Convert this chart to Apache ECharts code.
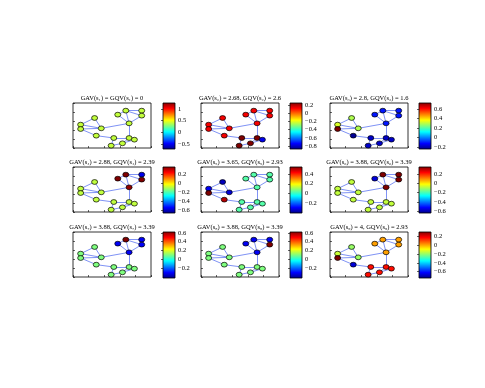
<!DOCTYPE html>
<html>
<head>
<meta charset="utf-8">
<script src="https://cdn.jsdelivr.net/npm/echarts@6/dist/echarts.min.js"></script>
<style>
  html, body { margin: 0; padding: 0; background: #fff; }
  #chart { width: 485px; height: 388px; }
</style>
</head>
<body>
<div id="chart"></div>
<script>
// 节点坐标（0-100，y 向上）
const nodeX = [27.7, 9.8, 9.8, 36.2, 29.8, 57.4, 67.7, 88.1, 88.1, 71.9, 52.3, 71.9, 78.7, 63.4, 48.9]
const nodeY = [66.7, 51.9, 42.2, 43.7, 27.4, 74.1, 83, 83, 71.9, 54.8, 22.2, 22.2, 18.5, 10.4, 5.2]
const edges = [
  [0, 1], [0, 3], [1, 2], [1, 3], [2, 3], [2, 4], [3, 9], [4, 10],
  [5, 6], [5, 9], [6, 7], [6, 8], [6, 9], [7, 8], [8, 9], [9, 11],
  [10, 11], [10, 14], [11, 12], [11, 13], [12, 13], [13, 14]
]

const titles = [
  'GAV(s₁) = GQV(s₁) = 0',
  'GAV(s₂) = 2.68, GQV(s₂) = 2.6',
  'GAV(s₃) = 2.8, GQV(s₃) = 1.6',
  'GAV(s₄) = 2.88, GQV(s₄) = 2.39',
  'GAV(s₅) = 3.65, GQV(s₅) = 2.93',
  'GAV(s₆) = 3.88, GQV(s₆) = 3.39',
  'GAV(s₇) = 3.88, GQV(s₇) = 3.39',
  'GAV(s₈) = 3.88, GQV(s₈) = 3.39',
  'GAV(s₉) = 4, GQV(s₉) = 2.93'
]

// 每个子图的节点值
const values1 = [0.4, 0.4, 0.4, 0.4, 0.4, 0.4, 0.4, 0.4, 0.4, 0.4, 0.4, 0.4, 0.4, 0.4, 0.4]
const values2 = [0.12, 0.12, 0.12, 0.12, 0.12, 0.12, 0.12, 0.12, 0.12, 0.12, 0.25, 0.25, -0.75, 0.25, 0.25]
const values3 = [0.29, 0.33, 0.73, 0.29, -0.22, -0.1, -0.1, -0.1, -0.1, -0.1, -0.17, -0.17, -0.17, -0.17, -0.17]
const values4 = [-0.08, -0.08, -0.08, -0.08, -0.08, 0.37, 0.37, -0.55, 0.37, 0.35, -0.08, -0.08, -0.08, -0.08, -0.08]
const values5 = [-0.35, -0.3, 0.55, -0.33, 0.5, 0.03, 0.03, 0.03, 0.03, 0.03, 0.03, 0.03, 0.03, 0.03, 0.03]
const values6 = [-0.08, -0.08, -0.08, -0.08, -0.08, -0.55, 0.35, 0.35, 0.35, 0.35, -0.08, -0.08, -0.08, -0.08, -0.08]
const values7 = [0.1, 0.1, 0.1, 0.1, 0.1, -0.3, 0.62, -0.3, -0.3, -0.3, 0.1, 0.1, 0.1, 0.1, 0.1]
const values8 = [0.1, 0.1, 0.1, 0.1, 0.1, -0.3, -0.3, -0.3, 0.62, -0.3, 0.1, 0.1, 0.1, 0.1, 0.1]
const values9 = [-0.2, -0.15, 0.29, -0.2, -0.65, 0, 0, 0, 0, 0, 0.15, 0.15, 0.15, 0.15, 0.15]
const allValues = [values1, values2, values3, values4, values5, values6, values7, values8, values9]

// 色条范围与刻度
const ranges = [
  [-0.72, 1.26], [-0.87, 0.25], [-0.24, 0.73],
  [-0.66, 0.37], [-0.41, 0.55], [-0.64, 0.35],
  [-0.42, 0.62], [-0.42, 0.62], [-0.74, 0.29]
]
const ticks = [
  [-0.5, 0, 0.5, 1], [-0.8, -0.6, -0.4, -0.2, 0, 0.2], [-0.2, 0, 0.2, 0.4, 0.6],
  [-0.6, -0.4, -0.2, 0, 0.2], [-0.2, 0, 0.2, 0.4], [-0.6, -0.4, -0.2, 0, 0.2],
  [-0.2, 0, 0.2, 0.4, 0.6], [-0.2, 0, 0.2, 0.4, 0.6], [-0.6, -0.4, -0.2, 0, 0.2]
]

const jet = ['#00007f', '#0000ff', '#007fff', '#00ffff', '#7fff7f', '#ffff00', '#ff7f00', '#ff0000', '#7f0000']
const serif = 'Liberation Serif'

const chart = echarts.init(document.getElementById('chart'))

const boxLeft = [73, 201, 330]
const barLeft = [163, 290, 419]
const rowTop = [103, 167, 232]

const grid = []
const xAxis = []
const yAxis = []
const series = []
const visualMap = []
const title = []

// 边的线段（由节点数组得出）
const edgeLines = edges.map(e => ({
  coords: [[nodeX[e[0]], nodeY[e[0]]], [nodeX[e[1]], nodeY[e[1]]]]
}))

for (let i = 0; i < 9; i++) {
  const col = i % 3
  const row = Math.floor(i / 3)

  // 图框
  grid.push({
    left: boxLeft[col], top: rowTop[row], width: 78, height: 45,
    show: true, backgroundColor: '#fff', borderColor: '#000', borderWidth: 0.8
  })
  // 色条
  grid.push({
    left: barLeft[col], top: rowTop[row], width: 12, height: 46,
    show: true, borderColor: '#000', borderWidth: 0.8,
    backgroundColor: {
      type: 'linear', x: 0, y: 1, x2: 0, y2: 0,
      colorStops: jet.map((c, k) => ({ offset: k / (jet.length - 1), color: c }))
    }
  })

  const boxAxis = (gi) => ({
    type: 'value', gridIndex: gi, min: 0, max: 100, interval: 20,
    axisLine: { show: false }, axisLabel: { show: false }, splitLine: { show: false },
    axisTick: { inside: true, length: 2, lineStyle: { color: '#000', width: 0.6 } }
  })
  xAxis.push(boxAxis(2 * i))
  yAxis.push(boxAxis(2 * i))

  xAxis.push({ type: 'value', gridIndex: 2 * i + 1, min: 0, max: 1, show: false })
  yAxis.push({
    type: 'value', gridIndex: 2 * i + 1, position: 'right',
    min: ranges[i][0], max: ranges[i][1],
    axisLine: { show: false }, splitLine: { show: false },
    axisTick: { inside: true, length: 2, customValues: ticks[i], lineStyle: { color: '#000', width: 0.6 } },
    axisLabel: {
      customValues: ticks[i], margin: 3, fontSize: 6.5, fontFamily: serif, color: '#000',
      formatter: v => String(Math.round(v * 10) / 10).replace('-', '−')
    }
  })

  // 边
  series.push({
    type: 'lines',
    coordinateSystem: 'cartesian2d',
    xAxisIndex: 2 * i,
    yAxisIndex: 2 * i,
    silent: true,
    data: edgeLines,
    lineStyle: { color: '#8093f5', width: 1, opacity: 1 },
    z: 2
  })
  // 节点
  series.push({
    type: 'scatter',
    xAxisIndex: 2 * i,
    yAxisIndex: 2 * i,
    symbol: 'circle',
    symbolSize: [6, 4.8],
    silent: true,
    data: nodeX.map((x, k) => [x, nodeY[k], allValues[i][k]]),
    itemStyle: { borderColor: '#000', borderWidth: 0.7, opacity: 1 },
    z: 3
  })

  visualMap.push({
    type: 'continuous', show: false, seriesIndex: 2 * i + 1, dimension: 2,
    min: ranges[i][0], max: ranges[i][1],
    inRange: { color: jet }
  })

  title.push({
    text: titles[i],
    left: boxLeft[col] + 39,
    top: rowTop[row] - 8,
    padding: 0,
    textAlign: 'center',
    textStyle: { fontSize: 6.5, fontWeight: 'normal', fontFamily: serif, color: '#000' }
  })
}

chart.setOption({
  animation: false,
  backgroundColor: '#fff',
  title,
  grid,
  xAxis,
  yAxis,
  visualMap,
  series
})
</script>
</body>
</html>
